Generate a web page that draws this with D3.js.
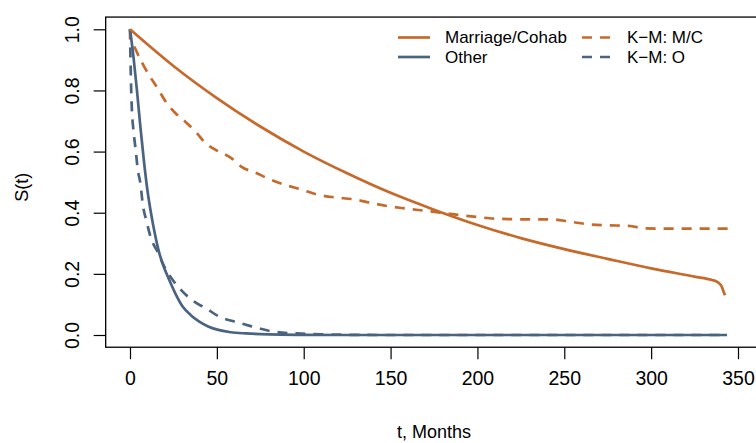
<!DOCTYPE html>
<html><head><meta charset="utf-8">
<script src="https://cdn.jsdelivr.net/npm/d3@7"></script>
<style>body{margin:0;background:#fff;} text{font-family:"Liberation Sans",Arial,sans-serif;fill:#000;}</style>
</head><body><svg id="c" width="756" height="443"></svg>
<script>
// Model: Marriage/Cohab (solid orange)
const tOC = [0,25,50,75,100,125,150,175,200,225,250,275,300,325,335,338,340.5,341.5,342.5];
const sOC = [1.0,0.88,0.775,0.682,0.60,0.529,0.465,0.41,0.36,0.317,0.281,0.249,0.218,0.191,0.18,0.174,0.16,0.145,0.13];
// K-M: M/C (dashed orange)
const tKMOC = [0,0.5,3,7,11,16,20.7,26.5,32,38,43.7,49.5,58.5,64,73,80.6,89.8,97.9,107.5,118,128.6,138,147.8,158.3,169,179.4,190,201.5,207,219.7,231,242.8,253,264,275,287,297,309,320,330,345.4];
const sKMOC = [1.0,0.97,0.937,0.89,0.85,0.806,0.762,0.724,0.697,0.664,0.626,0.605,0.578,0.551,0.529,0.509,0.49,0.477,0.46,0.45,0.444,0.433,0.422,0.414,0.407,0.40,0.392,0.385,0.382,0.379,0.378,0.378,0.371,0.362,0.359,0.357,0.349,0.348,0.348,0.348,0.348];
// Model: Other (solid blue)
const tO = [0,2,4,6,8,10,12.1,14,16.9,20,22.6,26,30.3,35,39.9,45,51.4,58,66.8,80,100,120,150,200,250,300,343.7];
const sO = [1.0,0.91,0.8,0.68,0.57,0.475,0.398,0.34,0.267,0.215,0.18,0.137,0.093,0.065,0.044,0.028,0.016,0.009,0.005,0.002,0.0005,0,0,0,0,0,0];
// K-M: O (dashed blue)
const tKMO = [0,0.3,0.6,1.2,1.8,2.5,3.5,4.4,6,7.3,9.6,12.1,15.9,19.8,24.6,30.3,37,43.8,51.4,60,65.8,74,82.5,96,110,150,200,250,300,343.7];
const sKMO = [1.0,0.9,0.82,0.724,0.68,0.642,0.593,0.544,0.495,0.43,0.37,0.316,0.272,0.223,0.18,0.142,0.109,0.087,0.06,0.044,0.035,0.022,0.011,0.005,0.002,0,0,0,0,0];

const xTicks = [0,50,100,150,200,250,300,350];
const yTicks = [0,0.2,0.4,0.6,0.8,1.0];
const legendLabels = ["Marriage/Cohab","Other","K\u2212M: M/C","K\u2212M: O"];

(function(){
const ORANGE = "#C66A2C", BLUE = "#4A6381";
const svg = d3.select("#c");
const x = d3.scaleLinear().domain([0,350]).range([130,738]);
const y = d3.scaleLinear().domain([0,1]).range([335,29.3]);
const pL = x(-14), pR = x(364), pT = y(1.04), pB = y(-0.04);

svg.append("rect").attr("x",pL).attr("y",pT).attr("width",pR-pL).attr("height",pB-pT)
  .attr("fill","none").attr("stroke","#000").attr("stroke-width",1.3);

const gx = svg.append("g").attr("transform",`translate(0,${pB})`)
  .call(d3.axisBottom(x).tickValues(xTicks).tickSize(12).tickPadding(12).tickFormat(d3.format("d")));
gx.select(".domain").remove();
gx.selectAll("line").attr("stroke","#000").attr("stroke-width",1.2);
gx.selectAll("text").style("font-size","19.5px").style("font-family","Liberation Sans, Arial, sans-serif").attr("fill","#000");

const gy = svg.append("g").attr("transform",`translate(${pL},0)`)
  .call(d3.axisLeft(y).tickValues(yTicks).tickSize(12).tickFormat(d3.format(".1f")));
gy.select(".domain").remove();
gy.selectAll("line").attr("stroke","#000").attr("stroke-width",1.2);
gy.selectAll("text").remove();
gy.selectAll(".tick").append("text")
  .attr("transform","translate(-34,0) rotate(-90)")
  .attr("text-anchor","middle").attr("dy","0.35em")
  .style("font-size","19.5px").attr("fill","#000")
  .text(d=>d3.format(".1f")(d));

svg.append("text").attr("x",(pL+pR)/2).attr("y",432).attr("dy","0.35em").attr("text-anchor","middle")
  .style("font-size","18px").text("t, Months");
svg.append("text").attr("transform",`translate(22,${(pT+pB)/2 + 5}) rotate(-90)`).attr("dy","0.35em")
  .attr("text-anchor","middle").style("font-size","18px").text("S(t)");

svg.append("clipPath").attr("id","pc").append("rect")
  .attr("x",pL).attr("y",pT).attr("width",pR-pL).attr("height",pB-pT);
const g = svg.append("g").attr("clip-path","url(#pc)");

function draw(ts, ss, color, dash){
  const data = ts.map((t,i)=>[t,ss[i]]);
  const line = d3.line().x(d=>x(d[0])).y(d=>y(d[1])).curve(d3.curveMonotoneX);
  g.append("path").attr("d",line(data)).attr("fill","none").attr("stroke",color)
    .attr("stroke-width",2.7).attr("stroke-dasharray",dash?"10,8":null).attr("stroke-linejoin","round");
}
draw(tKMO,sKMO,BLUE,true);
draw(tKMOC,sKMOC,ORANGE,true);
draw(tO,sO,BLUE,false);
draw(tOC,sOC,ORANGE,false);

const leg = [
  {lab:legendLabels[0], c:ORANGE, dash:false, x1:398, x2:430, tx:445, y:37.5},
  {lab:legendLabels[1], c:BLUE, dash:false, x1:398, x2:430, tx:445, y:57},
  {lab:legendLabels[2], c:ORANGE, dash:true, x1:582, x2:610, tx:627, y:37.5},
  {lab:legendLabels[3], c:BLUE, dash:true, x1:582, x2:610, tx:627, y:57}
];
leg.forEach(l=>{
  svg.append("line").attr("x1",l.x1).attr("x2",l.x2).attr("y1",l.y).attr("y2",l.y)
    .attr("stroke",l.c).attr("stroke-width",2.7).attr("stroke-dasharray",l.dash?"10,8":null);
  svg.append("text").attr("x",l.tx).attr("y",l.y).attr("dy","0.35em").style("font-size","17px").text(l.lab);
});
})();
</script></body></html>
